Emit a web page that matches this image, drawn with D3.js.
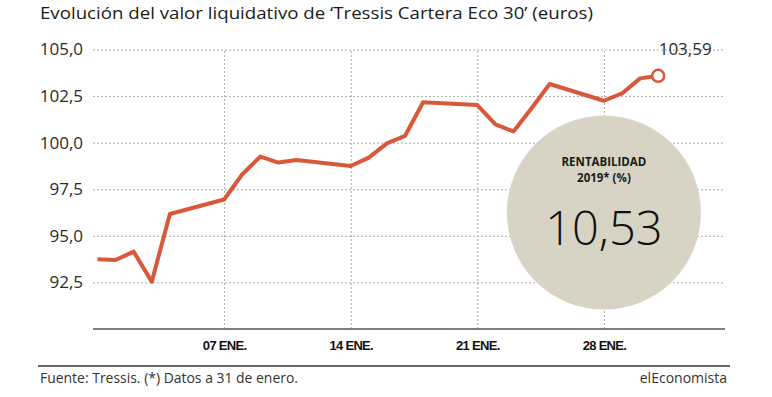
<!DOCTYPE html>
<html>
<head>
<meta charset="utf-8">
<script src="https://cdn.jsdelivr.net/npm/d3@7"></script>
<style>
  body { margin: 0; background: #fff; }
  svg { display: block; font-family: "Open Sans", "Noto Sans", sans-serif; }
</style>
</head>
<body>
<div id="chart"></div>
<script>
// Valor liquidativo diario, enero 2019
const dates = ["2018-12-31", "2019-01-01", "2019-01-02", "2019-01-03", "2019-01-04",
  "2019-01-07", "2019-01-08", "2019-01-09", "2019-01-10", "2019-01-11",
  "2019-01-14", "2019-01-15", "2019-01-16", "2019-01-17", "2019-01-18",
  "2019-01-21", "2019-01-22", "2019-01-23", "2019-01-24", "2019-01-25",
  "2019-01-28", "2019-01-29", "2019-01-30", "2019-01-31"];
const values = [93.74, 93.70, 94.15, 92.54, 96.17,
  96.95, 98.30, 99.25, 98.93, 99.07,
  98.75, 99.20, 99.96, 100.36, 102.17,
  102.02, 100.98, 100.60, 101.85, 103.15,
  102.25, 102.64, 103.45, 103.59];
const yTicks = [92.5, 95.0, 97.5, 100.0, 102.5, 105.0];
const xTicks = ["2019-01-07", "2019-01-14", "2019-01-21", "2019-01-28"];
const lastLabel = "103,59";
const rentabilidad = "10,53";

const W = 772, H = 397;
const margin = { left: 93, right: 47, top: 49.5, bottom: 68 };
const parse = d3.utcParse("%Y-%m-%d");
const data = dates.map((d, i) => ({ date: parse(d), value: values[i] }));

const svg = d3.select("#chart").append("svg")
  .attr("width", W)
  .attr("height", H);

// Scales (axis runs a little past the last day)
const x = d3.scaleUtc()
  .domain([new Date(Date.UTC(2018, 11, 30, 18)), new Date(Date.UTC(2019, 1, 3, 16, 40))])
  .range([margin.left, W - margin.right]);
const y = d3.scaleLinear()
  .domain([90, 105])
  .range([H - margin.bottom, margin.top]);

const comma = v => d3.format(".1f")(v).replace(".", ",");

// Title
svg.append("text")
  .attr("x", 40)
  .attr("y", 19)
  .attr("font-size", 17)
  .attr("fill", "#1a1a1a")
  .attr("textLength", 553)
  .attr("lengthAdjust", "spacingAndGlyphs")
  .text("Evolución del valor liquidativo de ‘Tressis Cartera Eco 30’ (euros)");

// Horizontal gridlines + y labels
const yAxis = svg.append("g")
  .attr("transform", `translate(${margin.left},0)`)
  .call(d3.axisLeft(y).tickValues(yTicks).tickFormat(comma)
    .tickSize(-(W - margin.right - margin.left)).tickPadding(10));
yAxis.select(".domain").remove();
yAxis.selectAll("line")
  .attr("stroke", "#a9a9a9")
  .attr("stroke-dasharray", "2,2");
yAxis.selectAll("text")
  .attr("font-size", 17)
  .attr("fill", "#2b2b2b")
  .attr("font-family", "Open Sans, sans-serif");

// Vertical gridlines + x labels
const xAxis = svg.append("g")
  .attr("transform", `translate(0,${y(90)})`)
  .call(d3.axisBottom(x).tickValues(xTicks.map(parse))
    .tickFormat(d3.utcFormat("%d ENE."))
    .tickSize(-(y(90) - y(105))).tickPadding(12));
xAxis.select(".domain").remove();
xAxis.selectAll("line")
  .attr("stroke", "#a9a9a9")
  .attr("stroke-dasharray", "2,2");
xAxis.selectAll("text")
  .attr("font-size", 13)
  .attr("font-weight", "bold")
  .attr("letter-spacing", -0.7)
  .attr("fill", "#111");

// Baseline
svg.append("line")
  .attr("x1", margin.left)
  .attr("x2", W - margin.right)
  .attr("y1", y(90))
  .attr("y2", y(90))
  .attr("stroke", "#555")
  .attr("stroke-width", 1.5);

// Rentabilidad bubble
const cx = x(parse("2019-01-28"));
const cy = y(96.25);
svg.append("circle")
  .attr("cx", cx)
  .attr("cy", cy)
  .attr("r", 97)
  .attr("fill", "#d8d4c5");
svg.append("text")
  .attr("x", cx)
  .attr("y", cy - 47)
  .attr("text-anchor", "middle")
  .attr("font-size", 11.5)
  .attr("font-weight", "bold")
  .attr("fill", "#1a1a1a")
  .text("RENTABILIDAD");
svg.append("text")
  .attr("x", cx)
  .attr("y", cy - 31)
  .attr("text-anchor", "middle")
  .attr("font-size", 11.5)
  .attr("font-weight", "bold")
  .attr("fill", "#1a1a1a")
  .text("2019* (%)");
svg.append("text")
  .attr("x", cx)
  .attr("y", cy + 32)
  .attr("text-anchor", "middle")
  .attr("font-size", 47)
  .attr("font-weight", 300)
  .attr("fill", "#111")
  .text(rentabilidad);

// Line
const line = d3.line()
  .x(d => x(d.date))
  .y(d => y(d.value));
svg.append("path")
  .datum(data)
  .attr("fill", "none")
  .attr("stroke", "#d9573a")
  .attr("stroke-width", 4)
  .attr("stroke-linejoin", "round")
  .attr("d", line);

// End marker and label
const last = data[data.length - 1];
svg.append("circle")
  .attr("cx", x(last.date))
  .attr("cy", y(last.value))
  .attr("r", 6)
  .attr("fill", "#fff")
  .attr("stroke", "#d9573a")
  .attr("stroke-width", 2.5);
svg.append("text")
  .attr("x", x(last.date) + 27)
  .attr("y", 55)
  .attr("text-anchor", "middle")
  .attr("font-size", 17)
  .attr("fill", "#2b2b2b")
  .text(lastLabel);

// Footer
svg.append("line")
  .attr("x1", 38)
  .attr("x2", 730)
  .attr("y1", 366)
  .attr("y2", 366)
  .attr("stroke", "#333")
  .attr("stroke-width", 1.5);
svg.append("text")
  .attr("x", 40)
  .attr("y", 383)
  .attr("font-size", 14)
  .attr("fill", "#333")
  .attr("textLength", 258)
  .attr("lengthAdjust", "spacingAndGlyphs")
  .text("Fuente: Tressis. (*) Datos a 31 de enero.");
svg.append("text")
  .attr("x", 727)
  .attr("y", 383)
  .attr("text-anchor", "end")
  .attr("font-size", 14)
  .attr("fill", "#333")
  .text("elEconomista");
</script>
</body>
</html>
